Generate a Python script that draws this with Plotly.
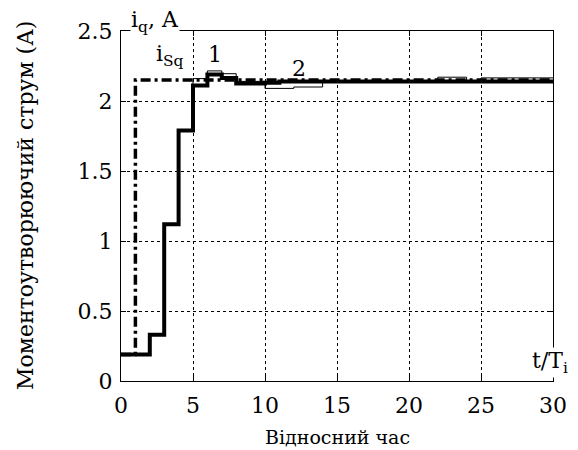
import plotly.graph_objects as go

# Thick curve (i_q) - step values
iq_t = [0, 2, 3, 4, 5, 6, 7, 8, 10, 11, 30]
iq_v = [0.19, 0.33, 1.12, 1.79, 2.11, 2.19, 2.165, 2.125, 2.13, 2.14, 2.14]

# Thin curve - step values
thin_t = [0, 2, 3, 4, 5, 6, 7, 8, 10, 12, 14, 22, 24, 25, 30]
thin_v = [0.19, 0.33, 1.12, 1.79, 2.16, 2.215, 2.195, 2.14, 2.09, 2.10, 2.14, 2.17, 2.14, 2.165, 2.165]

# Reference i_Sq (dash-dot)
ref_t = [0, 1, 30]
ref_v = [0.19, 2.15, 2.15]

x_ticks = [0, 5, 10, 15, 20, 25, 30]
y_ticks = [0, 0.5, 1, 1.5, 2, 2.5]
y_tick_text = ["0", "0.5", "1", "1.5", "2", "2.5"]

FONT = "DejaVu Serif"
OFF = 8  # page body margin
W, H = 578 - OFF, 450 - OFF
L, R, T, B = 121 - OFF, 25, 31 - OFF, 69
PW, PH = W - L - R, H - T - B


def px(x):
    return (x - OFF - L) / PW


def py(y):
    return (H - B - (y - OFF)) / PH


fig = go.Figure()
fig.add_trace(go.Scatter(x=thin_t, y=thin_v, mode="lines", line=dict(shape="hv", color="black", width=1),
                         showlegend=False))
fig.add_trace(go.Scatter(x=iq_t, y=iq_v, mode="lines", line=dict(shape="hv", color="black", width=4),
                         showlegend=False))
fig.add_trace(go.Scatter(x=ref_t, y=ref_v, mode="lines",
                         line=dict(shape="hv", color="black", width=3.5, dash="10px,4px,3px,4px"),
                         showlegend=False))

axis_common = dict(showline=True, linecolor="black", linewidth=1, mirror="ticks", ticks="inside",
                   ticklen=5, tickcolor="black", showgrid=True, gridcolor="black", gridwidth=1,
                   griddash="dot", zeroline=False)

fig.update_xaxes(range=[0, 30], tickvals=x_ticks, ticktext=[str(v) for v in x_ticks],
                 tickfont=dict(family=FONT, size=22, color="black"), ticklabelstandoff=5, **axis_common)
fig.update_yaxes(range=[0, 2.5], tickvals=y_ticks, ticktext=y_tick_text,
                 tickfont=dict(family=FONT, size=22, color="black"), ticklabelstandoff=3, **axis_common)

annotations = [
    dict(text="i<sub>q</sub>, A", x=px(130), y=py(22), xanchor="left", yanchor="middle", bgcolor="white"),
    dict(text="i<sub>Sq</sub>", x=px(155), y=py(56), xanchor="left", yanchor="middle"),
    dict(text="1", x=px(215), y=py(54), xanchor="center", yanchor="middle"),
    dict(text="2", x=px(299), y=py(69), xanchor="center", yanchor="middle"),
    dict(text="t/T<sub>i</sub>", x=px(531), y=py(362), xanchor="left", yanchor="middle", bgcolor="white"),
    dict(text="Відносний час", x=0.5, y=py(437), xanchor="center", yanchor="middle",
         font=dict(family=FONT, size=19, color="black")),
    dict(text="Моментоутворюючий струм (А)", x=px(25), y=0.5, xanchor="center", yanchor="middle",
         textangle=-90, font=dict(family=FONT, size=22, color="black")),
]
for a in annotations:
    if "font" not in a:
        a["font"] = dict(family=FONT, size=22, color="black")
    a.update(xref="paper", yref="paper", showarrow=False, borderpad=0)

fig.update_layout(width=W, height=H, margin=dict(l=L, r=R, t=T, b=B), plot_bgcolor="white",
                  paper_bgcolor="white", annotations=annotations,
                  font=dict(family=FONT, size=22, color="black"))

fig.write_html("out.html")
